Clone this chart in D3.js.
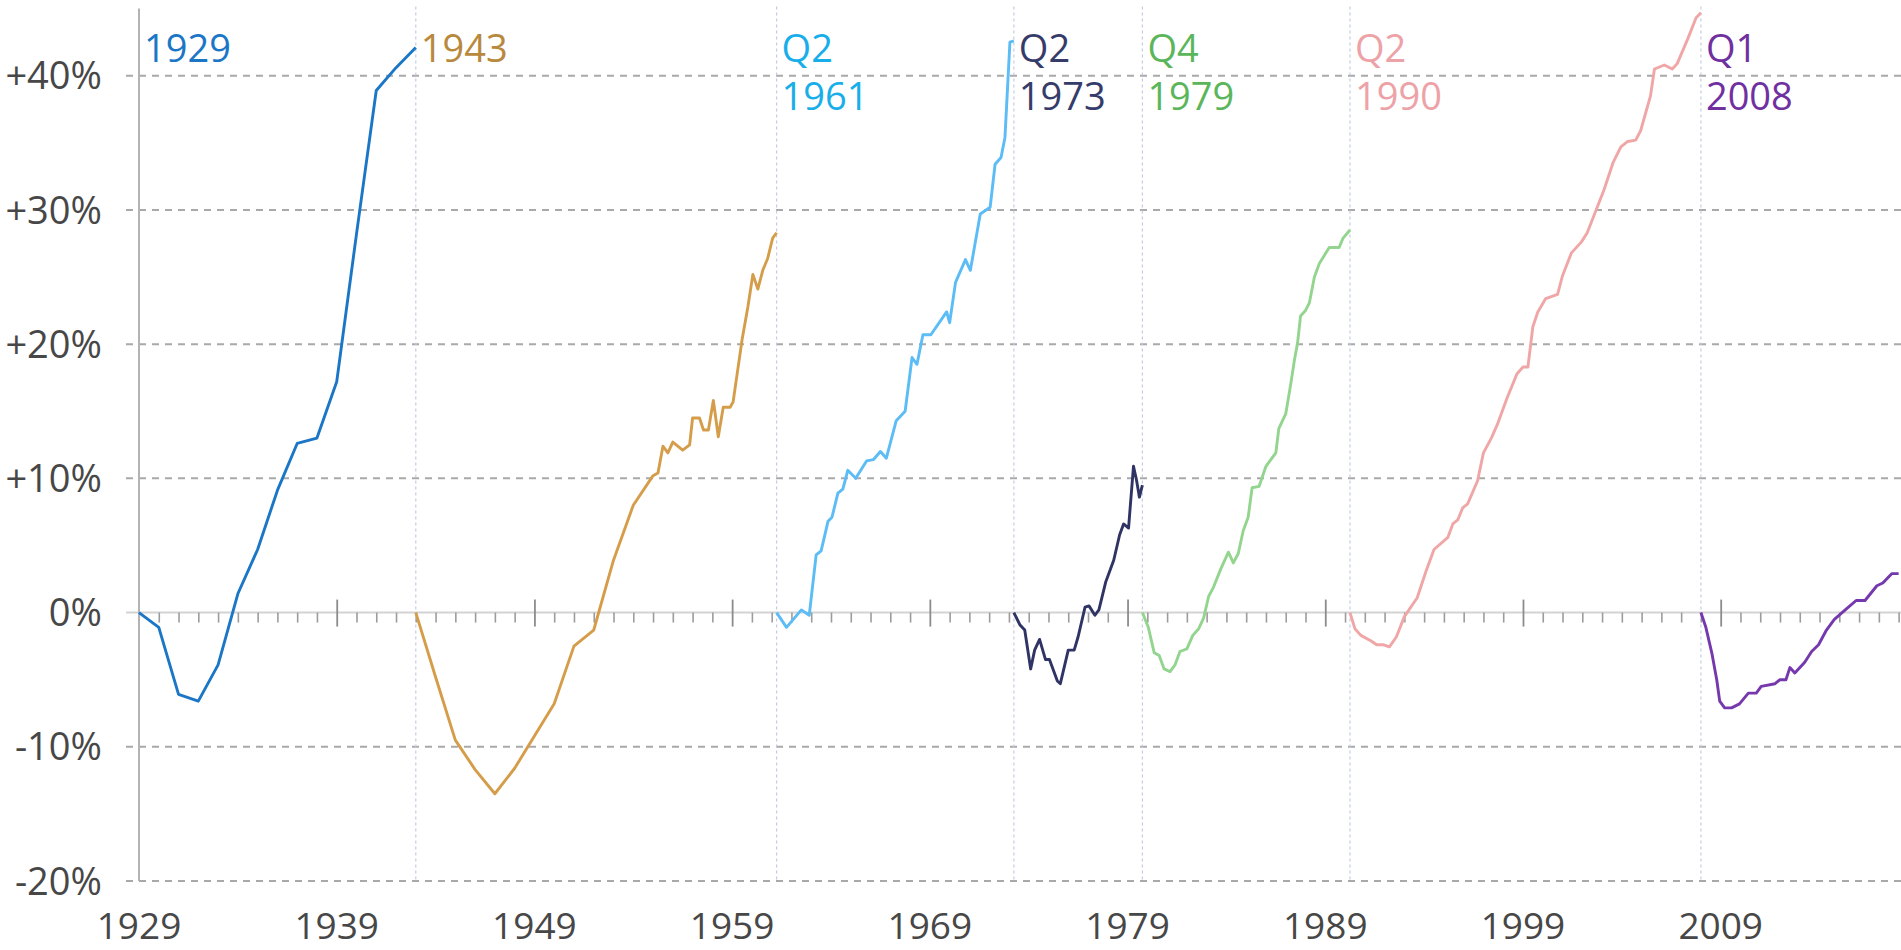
<!DOCTYPE html>
<html>
<head>
<meta charset="utf-8">
<script src="https://cdn.jsdelivr.net/npm/d3@7"></script>
<style>
  body { margin: 0; background: #fff; }
  svg text { font-family: "Open Sans", "DejaVu Sans", sans-serif; }
</style>
</head>
<body>
<div id="container"></div>
<script>
/* CONSTANTS AND GLOBALS */
const width = 1901,
  height = 950,
  margin = { top: 8.6, bottom: 69, left: 139, right: 0 };

/* DATA */
const cycleStarts = [1929, 1943, 1961.25, 1973.25, 1979.75, 1990.25, 2008];
const cycleQuarters = ["", "", "Q2", "Q2", "Q4", "Q2", "Q1"];
const cycleYears = ["1929", "1943", "1961", "1973", "1979", "1990", "2008"];
const yTicks = [-20, -10, 0, 10, 20, 30, 40];
const xLabelYears = [1929, 1939, 1949, 1959, 1969, 1979, 1989, 1999, 2009];

// [year, % change since cycle start]
const s1929 = [[1929,0],[1930,-1.1],[1931,-6.1],[1932,-6.6],[1933,-3.9],[1934,1.4],[1935,4.7],[1936,9.1],
  [1937,12.6],[1938,13.0],[1939,17.2],[1940,28.2],[1941,38.9],[1942,40.6],[1943,42.1]];
const s1943 = [[1943,0],[1944,-4.8],[1945,-9.5],[1946,-11.7],[1947,-13.5],[1948,-11.6],[1949,-9.2],[1950,-6.8],
  [1951,-2.5],[1952,-1.3],[1953,3.9],[1954,8.0],[1955,10.2],[1955.25,10.4],[1955.5,12.4],[1955.75,11.9],
  [1956,12.7],[1956.5,12.1],[1956.85,12.5],[1957,14.5],[1957.35,14.5],[1957.55,13.6],[1957.8,13.6],
  [1958.05,15.8],[1958.3,13.1],[1958.55,15.3],[1958.9,15.3],[1959.05,15.7],[1959.5,20.3],[1959.8,22.8],
  [1960.05,25.2],[1960.3,24.1],[1960.55,25.5],[1960.8,26.4],[1961.05,27.9],[1961.25,28.3]];
const s1961 = [[1961.25,0],[1961.75,-1.1],[1962.5,0.2],[1962.9,-0.2],[1963.25,4.3],[1963.5,4.6],[1963.85,6.8],
  [1964.05,7.1],[1964.35,8.9],[1964.6,9.2],[1964.85,10.6],[1965.25,10.0],[1965.8,11.3],[1966.15,11.4],
  [1966.5,12.0],[1966.8,11.5],[1967.3,14.3],[1967.75,15.0],[1968.1,19.0],[1968.35,18.5],[1968.65,20.7],
  [1969.05,20.7],[1969.85,22.4],[1970.0,21.6],[1970.3,24.6],[1970.8,26.3],[1971.05,25.5],[1971.55,29.7],
  [1972.05,30.2],[1972.3,33.4],[1972.6,33.9],[1972.8,35.4],[1973.05,42.5],[1973.25,42.6]];
const s1973 = [[1973.25,0],[1973.55,-0.9],[1973.8,-1.3],[1974.1,-4.2],[1974.3,-2.8],[1974.55,-2.0],[1974.85,-3.5],
  [1975.05,-3.5],[1975.45,-5.1],[1975.6,-5.3],[1976.0,-2.8],[1976.3,-2.8],[1976.5,-1.8],[1976.85,0.4],
  [1977.05,0.5],[1977.35,-0.2],[1977.55,0.2],[1977.9,2.3],[1978.3,3.9],[1978.6,5.8],[1978.8,6.6],
  [1979.05,6.3],[1979.3,10.9],[1979.45,9.9],[1979.6,8.6],[1979.75,9.5]];
const s1979 = [[1979.75,0],[1980.05,-1.1],[1980.35,-3.0],[1980.6,-3.2],[1980.85,-4.2],[1981.15,-4.4],[1981.4,-3.9],
  [1981.65,-2.9],[1982.0,-2.7],[1982.3,-1.7],[1982.6,-1.2],[1982.85,-0.4],[1983.1,1.2],[1983.35,1.9],
  [1983.7,3.2],[1984.1,4.5],[1984.35,3.7],[1984.6,4.4],[1984.85,6.1],[1985.1,7.1],[1985.3,9.3],[1985.65,9.4],
  [1986.0,10.9],[1986.5,11.9],[1986.65,13.7],[1987.0,14.8],[1987.25,17.0],[1987.45,18.9],[1987.6,20.1],
  [1987.75,22.1],[1988.0,22.5],[1988.2,23.1],[1988.45,25.0],[1988.7,26.0],[1989.2,27.2],[1989.7,27.2],
  [1989.9,27.9],[1990.25,28.5]];
const s1990 = [[1990.25,0],[1990.5,-1.2],[1990.8,-1.7],[1991.3,-2.1],[1991.6,-2.4],[1991.95,-2.4],[1992.25,-2.55],
  [1992.6,-1.8],[1993.0,-0.3],[1993.65,1.1],[1994.1,3.1],[1994.5,4.7],[1995.2,5.6],[1995.45,6.6],[1995.7,6.9],
  [1995.95,7.8],[1996.2,8.1],[1996.7,9.8],[1997.0,11.9],[1997.4,13.0],[1997.7,14.0],[1998.2,16.0],[1998.7,17.8],
  [1999.0,18.3],[1999.25,18.3],[1999.5,21.3],[1999.75,22.4],[2000.15,23.4],[2000.75,23.7],[2001.0,25.1],
  [2001.45,26.8],[2001.95,27.6],[2002.25,28.3],[2002.7,30.0],[2003.1,31.5],[2003.55,33.5],[2003.95,34.7],
  [2004.3,35.1],[2004.7,35.2],[2004.95,35.9],[2005.45,38.5],[2005.65,40.5],[2006.15,40.8],[2006.55,40.5],
  [2006.8,40.9],[2007.35,42.8],[2007.75,44.3],[2008.0,44.7]];
const s2008 = [[2008.0,0],[2008.25,-1.1],[2008.55,-3.0],[2008.8,-5.0],[2008.95,-6.6],[2009.2,-7.1],[2009.55,-7.1],
  [2009.95,-6.8],[2010.4,-6.0],[2010.8,-6.0],[2011.05,-5.5],[2011.75,-5.3],[2012.0,-5.0],[2012.3,-5.0],
  [2012.5,-4.1],[2012.75,-4.5],[2013.25,-3.7],[2013.6,-2.9],[2013.95,-2.4],[2014.35,-1.3],[2014.75,-0.5],
  [2015.3,0.2],[2015.85,0.9],[2016.3,0.9],[2016.9,2.0],[2017.2,2.2],[2017.65,2.9],[2018.0,2.9]];

const series = [s1929, s1943, s1961, s1973, s1979, s1990, s2008];

/* STYLES */
const textColors = ["#1b77c6", "#b8893c", "#18aee9", "#363c6a", "#5bb65b", "#eda2a7", "#7030a0"];
const lineColors = ["#1b77c6", "#d59d4a", "#5bbcf6", "#2f3465", "#93d58f", "#f0a6a6", "#7538ad"];

const svg = d3.select("#container")
  .append("svg")
  .attr("width", width)
  .attr("height", height);

// SCALES
const xScale = d3.scaleLinear()
  .domain([1929, 2018.12])
  .range([margin.left, width - margin.right]);

const yScale = d3.scaleLinear()
  .domain([-20, 45])
  .range([height - margin.bottom, margin.top]);

// GRIDLINES
svg.selectAll(".grid")
  .data(yTicks.filter(d => d !== 0))
  .join("line")
  .attr("class", "grid")
  .attr("x1", margin.left - 13)
  .attr("x2", width)
  .attr("y1", d => yScale(d))
  .attr("y2", d => yScale(d))
  .attr("stroke", "#a9a9a9")
  .attr("stroke-width", 2)
  .attr("stroke-dasharray", "7,6");

// cycle start markers
svg.selectAll(".cycle-line")
  .data(cycleStarts.slice(1))
  .join("line")
  .attr("class", "cycle-line")
  .attr("x1", d => xScale(d))
  .attr("x2", d => xScale(d))
  .attr("y1", yScale(45) - 2)
  .attr("y2", yScale(-20))
  .attr("stroke", "#c3cde2")
  .attr("stroke-width", 1.2)
  .attr("stroke-dasharray", "3,3");

// zero line
svg.append("line")
  .attr("x1", margin.left - 13)
  .attr("x2", width)
  .attr("y1", yScale(0))
  .attr("y2", yScale(0))
  .attr("stroke", "#d3d3d3")
  .attr("stroke-width", 2);

// y axis line
svg.append("line")
  .attr("x1", xScale(1929))
  .attr("x2", xScale(1929))
  .attr("y1", yScale(45))
  .attr("y2", yScale(-20))
  .attr("stroke", "#b3b3b3")
  .attr("stroke-width", 2);

// X TICKS (yearly minor, decade major) on the zero line
const allYears = d3.range(1929, 2019);
const minorAxis = d3.axisBottom(xScale)
  .tickValues(allYears.filter(d => (d - 1929) % 10 !== 0))
  .tickSize(10)
  .tickFormat("");
const majorAxis = d3.axisBottom(xScale)
  .tickValues(xLabelYears.slice(1))
  .tickSize(27)
  .tickFormat("");

svg.append("g")
  .attr("transform", `translate(0,${yScale(0)})`)
  .call(minorAxis)
  .call(g => g.select(".domain").remove())
  .selectAll("line")
  .attr("stroke", "#9c9c9c")
  .attr("stroke-width", 1.6);

svg.append("g")
  .attr("transform", `translate(0,${yScale(0) - 13})`)
  .call(majorAxis)
  .call(g => g.select(".domain").remove())
  .selectAll("line")
  .attr("stroke", "#8c8c8c")
  .attr("stroke-width", 1.8);

// X LABELS
svg.selectAll(".xlabel")
  .data(xLabelYears)
  .join("text")
  .attr("class", "xlabel")
  .attr("x", d => xScale(d))
  .attr("y", 939)
  .attr("text-anchor", "middle")
  .attr("fill", "#474747")
  .style("font-size", "37px")
  .text(d => d);

// Y LABELS
svg.selectAll(".ylabel")
  .data(yTicks)
  .join("text")
  .attr("class", "ylabel")
  .attr("x", 102)
  .attr("y", d => yScale(d))
  .attr("dy", "0.36em")
  .attr("text-anchor", "end")
  .attr("fill", "#474747")
  .style("font-size", "38px")
  .text(d => (d > 0 ? "+" : "") + d + "%");

// LINES
const line = d3.line()
  .x(d => xScale(d[0]))
  .y(d => yScale(d[1]));

svg.selectAll(".cycle")
  .data(series)
  .join("path")
  .attr("class", "cycle")
  .attr("fill", "none")
  .attr("stroke", (d, i) => lineColors[i])
  .attr("stroke-width", 2.9)
  .attr("stroke-linejoin", "round")
  .attr("d", d => line(d));

// CYCLE LABELS
const labels = svg.selectAll(".cycle-label")
  .data(cycleStarts)
  .join("g")
  .attr("class", "cycle-label")
  .attr("fill", (d, i) => textColors[i])
  .style("font-size", "38px");

labels.append("text")
  .attr("x", d => xScale(d) + 5)
  .attr("y", 62)
  .text((d, i) => cycleQuarters[i] || cycleYears[i]);

labels.filter((d, i) => cycleQuarters[i] !== "")
  .append("text")
  .attr("x", d => xScale(d) + 5)
  .attr("y", 110)
  .text(d => cycleYears[cycleStarts.indexOf(d)]);
</script>
</body>
</html>
